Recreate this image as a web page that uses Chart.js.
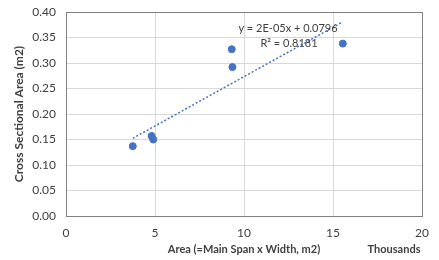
<!DOCTYPE html>
<html>
<head>
<meta charset="utf-8">
<script src="https://cdn.jsdelivr.net/npm/chart.js@4/dist/chart.umd.min.js"></script>
<style>
  html, body { margin: 0; padding: 0; background: #fff; }
  #wrap { width: 439px; height: 260px; position: relative; }
</style>
</head>
<body>
<div id="wrap"><canvas id="chart"></canvas></div>
<script>
// Data (x in thousands of m2)
const areaThousands = [3.75, 4.81, 4.90, 9.31, 9.35, 15.55];
const crossSection = [0.137, 0.157, 0.150, 0.327, 0.292, 0.338];
const xTicks = [0, 5, 10, 15, 20];
const yTicks = [0, 0.05, 0.10, 0.15, 0.20, 0.25, 0.30, 0.35, 0.40];
const trendLabel = 'y = 2E-05x + 0.0796';
const r2Label = 'R² = 0.8181';

const FONT = "Lato, 'Open Sans', 'Liberation Sans', sans-serif";

// Least squares fit for the trendline
function linearFit(xs, ys) {
    const n = xs.length;
    const mx = xs.reduce((a, b) => a + b, 0) / n;
    const my = ys.reduce((a, b) => a + b, 0) / n;
    let sxy = 0, sxx = 0;
    for (let i = 0; i < n; i++) {
        sxy += (xs[i] - mx) * (ys[i] - my);
        sxx += (xs[i] - mx) * (xs[i] - mx);
    }
    const slope = sxy / sxx;
    return { slope: slope, intercept: my - slope * mx };
}

const fit = linearFit(areaThousands, crossSection);
const xMin = Math.min(...areaThousands);
const xMax = Math.max(...areaThousands);

const points = areaThousands.map((x, i) => ({ x: x, y: crossSection[i] }));
const trend = [
    { x: xMin, y: fit.intercept + fit.slope * xMin },
    { x: xMax, y: fit.intercept + fit.slope * xMax }
];

// Draws plot border, the "Thousands" unit label and the trend equation
const extras = {
    id: 'extras',
    afterDraw(chart) {
        const ctx = chart.ctx;
        const a = chart.chartArea;
        ctx.save();
        ctx.strokeStyle = '#808080';
        ctx.lineWidth = 1;
        ctx.strokeRect(Math.round(a.left) + 0.5, Math.round(a.top) + 0.5,
            Math.round(a.right - a.left), Math.round(a.bottom - a.top));

        ctx.fillStyle = '#404040';
        ctx.font = "bold 11px " + FONT;
        ctx.textAlign = 'center';
        ctx.textBaseline = 'middle';
        ctx.fillText('Thousands', 394, 249);

        ctx.font = "11px " + FONT;
        ctx.fillText(trendLabel, 288, 28);
        ctx.fillText(r2Label, 289, 43);
        ctx.restore();
    }
};

new Chart(document.getElementById('chart'), {
    type: 'scatter',
    data: {
        datasets: [
            {
                label: 'data',
                data: points,
                backgroundColor: '#4472c4',
                borderColor: '#4472c4',
                pointRadius: 3.5,
                pointHoverRadius: 3.5
            },
            {
                label: 'trend',
                type: 'line',
                data: trend,
                borderColor: '#4472c4',
                borderWidth: 1.5,
                borderDash: [2, 2],
                pointRadius: 0,
                fill: false
            }
        ]
    },
    options: {
        responsive: true,
        maintainAspectRatio: false,
        animation: false,
        layout: { padding: { top: 0, right: 10, left: 0, bottom: 0 } },
        plugins: {
            legend: { display: false },
            tooltip: { enabled: false }
        },
        scales: {
            x: {
                type: 'linear',
                min: 0,
                max: 20,
                afterBuildTicks(axis) { axis.ticks = xTicks.map(v => ({ value: v })); },
                grid: { color: '#d9d9d9', drawTicks: false },
                border: { display: false },
                ticks: {
                    padding: 10,
                    color: '#404040',
                    font: { family: FONT, size: 12 }
                },
                title: {
                    display: true,
                    text: 'Area (=Main Span x Width, m2)',
                    color: '#404040',
                    font: { family: FONT, size: 11, weight: 'bold' },
                    padding: { top: 0, bottom: 4 }
                },
                afterFit(axis) { axis.height = 44; }
            },
            y: {
                type: 'linear',
                min: 0,
                max: 0.4,
                afterBuildTicks(axis) { axis.ticks = yTicks.map(v => ({ value: v })); },
                grid: { color: '#d9d9d9', drawTicks: false },
                border: { display: false },
                ticks: {
                    padding: 10,
                    color: '#404040',
                    font: { family: FONT, size: 12 },
                    callback: v => v.toFixed(2)
                },
                title: {
                    display: true,
                    text: 'Cross Sectional Area (m2)',
                    color: '#404040',
                    font: { family: FONT, size: 12, weight: 'bold' },
                    padding: { top: 12, bottom: 0 }
                },
                afterFit(axis) {
                    axis.width = 66;
                    axis.paddingTop = 12;
                    axis.paddingBottom = 0;
                }
            }
        }
    },
    plugins: [extras]
});
</script>
</body>
</html>
